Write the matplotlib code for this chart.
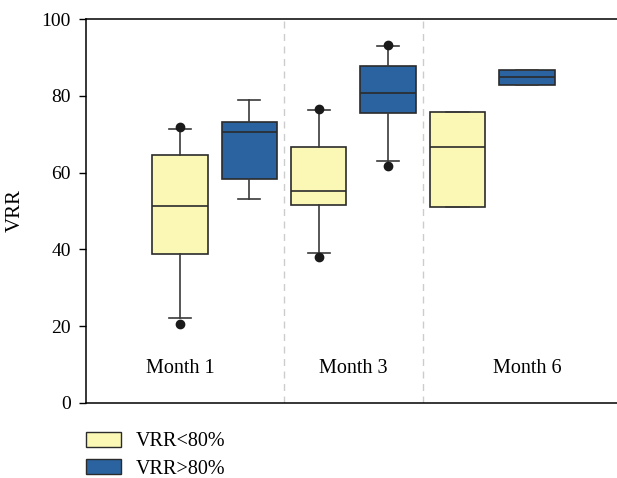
import matplotlib.pyplot as plt
from matplotlib.patches import Patch

plt.rcParams['font.family'] = ['Liberation Serif', 'DejaVu Serif']

months = ["Month 1", "Month 3", "Month 6"]
groups = ["VRR<80%", "VRR>80%"]

# box stats: [whislo, q1, med, q3, whishi]
low_stats = [
    [22.1, 38.8, 51.3, 64.6, 71.4],
    [39.1, 51.6, 55.2, 66.7, 76.3],
    [51.0, 51.0, 66.7, 75.8, 75.8],
]
high_stats = [
    [53.1, 58.3, 70.6, 73.2, 78.9],
    [63.0, 75.5, 80.7, 87.8, 93.0],
    [82.8, 82.8, 84.9, 86.7, 86.7],
]
low_fliers = [[20.6, 71.9], [38.0, 76.6], []]
high_fliers = [[], [61.7, 93.2], []]

colors = ["#faf8b4", "#2a63a0"]

fig = plt.figure(figsize=(6.17, 4.78), dpi=100)
ax = fig.add_axes([0.1394, 0.157, 0.8606, 0.803])


def make_stats(stats, fliers):
    out = []
    for s, f in zip(stats, fliers):
        out.append(dict(whislo=s[0], q1=s[1], med=s[2], q3=s[3], whishi=s[4], fliers=f))
    return out


for g, (stats, fliers) in enumerate([(low_stats, low_fliers), (high_stats, high_fliers)]):
    pos = [1 + 2 * i + g for i in range(len(months))]
    ax.bxp(make_stats(stats, fliers), positions=pos, widths=0.8, patch_artist=True,
           showfliers=True, capwidths=0.32,
           boxprops=dict(facecolor=colors[g], edgecolor="#2b2b2b", linewidth=1.2),
           medianprops=dict(color="#2b2b2b", linewidth=1.2),
           whiskerprops=dict(color="#3a3a3a", linewidth=1.2),
           capprops=dict(color="#3a3a3a", linewidth=1.2),
           flierprops=dict(marker="o", markerfacecolor="#1a1a1a", markeredgecolor="#1a1a1a",
                           markersize=6))

for xv in [2.5, 4.5]:
    ax.axvline(xv, color="#cccccc", linestyle=(0, (5, 4)), linewidth=1)

label_x = [1.0, 3.5, 6.0]
for lx, m in zip(label_x, months):
    ax.text(lx, 9.0, m, ha="center", va="center", fontsize=14.5)

ax.set_xlim(-0.355, 7.3)
ax.set_ylim(0, 100)
ax.set_yticks([0, 20, 40, 60, 80, 100])
ax.set_xticks([])
ax.tick_params(axis="y", labelsize=14, length=5, width=1, direction="out", pad=6)
ax.set_ylabel("VRR", fontsize=15, labelpad=12)
ax.spines["right"].set_visible(False)
for sp in ["left", "top", "bottom"]:
    ax.spines[sp].set_linewidth(1.1)

handles = [Patch(facecolor=c, edgecolor="#2b2b2b", label=l) for c, l in zip(colors, groups)]
fig.legend(handles=handles, loc="upper left", bbox_to_anchor=(0.139, 0.097),
           frameon=False, fontsize=14.5, handlelength=1.75, handleheight=0.8,
           labelspacing=0.38, handletextpad=0.75, borderaxespad=0, borderpad=0)

fig.savefig("out.png", dpi=100)
